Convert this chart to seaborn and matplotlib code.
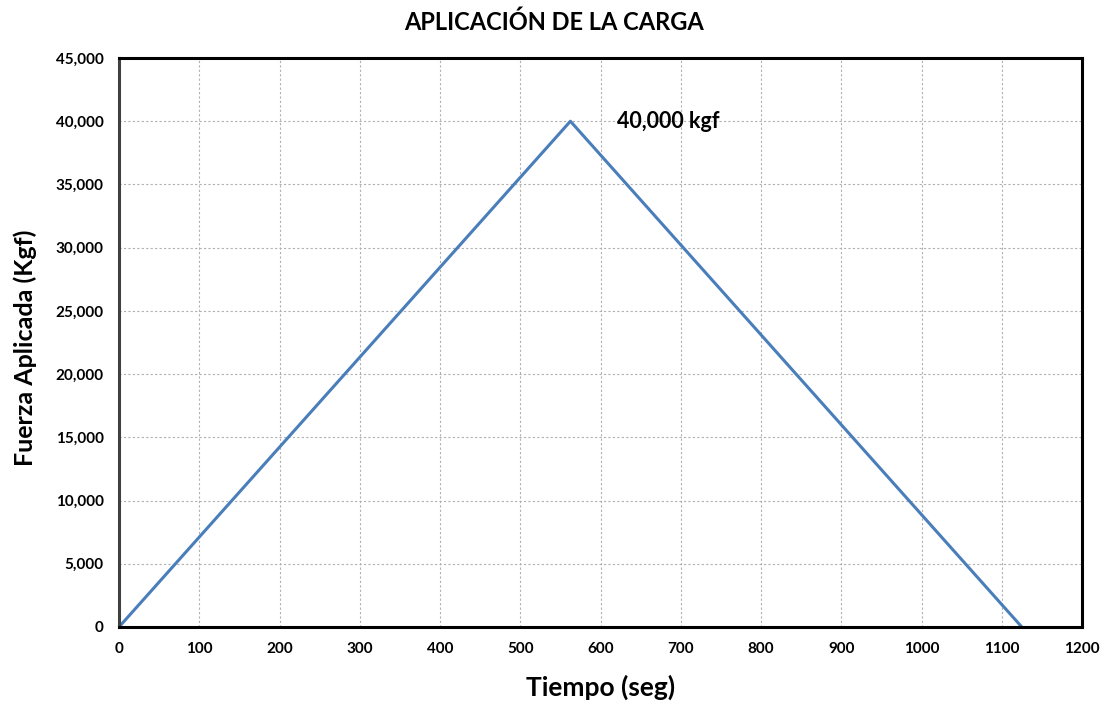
import matplotlib
matplotlib.use("Agg")
import matplotlib.pyplot as plt
import matplotlib.ticker as mticker
import seaborn as sns
import pandas as pd

# Load application cycle: linear ramp up to the peak, then linear unload
tiempo = [0, 562.5, 1125]
fuerza = [0, 40000, 0]
peak_label = "40,000 kgf"
x_ticks = list(range(0, 1201, 100))
y_ticks = list(range(0, 45001, 5000))

sns.set_theme(style="white")
plt.rcParams["font.family"] = ["Lato", "DejaVu Sans"]
plt.rcParams["text.color"] = "black"
plt.rcParams["axes.labelcolor"] = "black"
plt.rcParams["xtick.labelcolor"] = "black"
plt.rcParams["ytick.labelcolor"] = "black"

df = pd.DataFrame({"Tiempo": tiempo, "Fuerza": fuerza})

fig = plt.figure(figsize=(11.07, 7.13), dpi=100)
ax = fig.add_axes([119 / 1107, 1 - 627 / 713, (1082 - 119) / 1107, (627 - 58) / 713])

sns.lineplot(data=df, x="Tiempo", y="Fuerza", ax=ax, color="#4a7ebb", linewidth=2.2)

ax.set_xlim(0, 1200)
ax.set_ylim(0, 45000)
ax.set_xticks(x_ticks)
ax.set_yticks(y_ticks)
ax.yaxis.set_major_formatter(mticker.FuncFormatter(lambda v, p: f"{int(v):,}"))

ax.grid(True, color="#b0b0b0", linestyle=(0, (2, 2)), linewidth=0.8)
ax.set_axisbelow(True)

for side in ["top", "right", "bottom"]:
    ax.spines[side].set_color("black")
    ax.spines[side].set_linewidth(2.2)
ax.spines["left"].set_color("#404040")
ax.spines["left"].set_linewidth(2.2)

ax.tick_params(axis="both", which="major", direction="out", length=5, width=1,
               color="#999999", labelsize=11, pad=6)
for lbl in ax.get_xticklabels() + ax.get_yticklabels():
    lbl.set_fontweight("bold")

ax.set_xlabel("Tiempo (seg)", fontsize=19, fontweight="bold", labelpad=13)
ax.set_ylabel("Fuerza Aplicada (Kgf)", fontsize=18, fontweight="bold", labelpad=12)
ax.yaxis.set_label_coords(-0.085, 0.49)
fig.suptitle("APLICACIÓN DE LA CARGA", fontsize=17, fontweight="bold", y=0.985)

ax.annotate(peak_label, xy=(tiempo[1], fuerza[1]), xytext=(620, fuerza[1]),
            textcoords="data", fontsize=15.5, fontweight="bold", va="center", ha="left")

fig.savefig("out.png", dpi=100, facecolor="white")
